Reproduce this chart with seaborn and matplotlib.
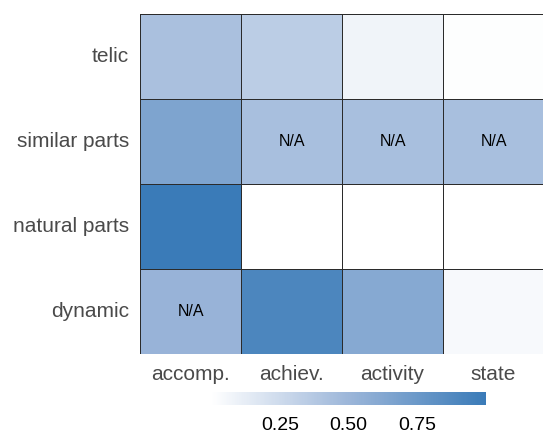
import numpy as np
import pandas as pd
import matplotlib
matplotlib.use("Agg")
import matplotlib.pyplot as plt
import seaborn as sns

# data
rows = ["telic", "similar parts", "natural parts", "dynamic"]
cols = ["accomp.", "achiev.", "activity", "state"]
telic = [0.43, 0.345, 0.075, 0.01]
similar_parts = [0.655, 0.44, 0.44, 0.44]
natural_parts = [1.0, 0.0, 0.0, 0.0]
dynamic = [0.52, 0.91, 0.61, 0.04]

na_cells = [("similar parts", "achiev."), ("similar parts", "activity"),
            ("similar parts", "state"), ("dynamic", "accomp.")]

df = pd.DataFrame([telic, similar_parts, natural_parts, dynamic], index=rows, columns=cols)
annot = pd.DataFrame("", index=rows, columns=cols)
for r, c in na_cells:
    annot.loc[r, c] = "N/A"

sns.set_theme(style="white")
plt.rcParams["font.family"] = ["Liberation Sans", "DejaVu Sans"]

# white -> lavender blue -> steel blue
cmap = sns.blend_palette(["#ffffff", "#9cb6d9", "#3a7bb8"], as_cmap=True)

fig = plt.figure(figsize=(5.43, 4.34), dpi=100)
ax = fig.add_axes([0.258, 0.184, 0.744, 0.784])
cax = fig.add_axes([0.389, 0.067, 0.506, 0.030])

sns.heatmap(df, ax=ax, cbar_ax=cax, cmap=cmap, vmin=0, vmax=1,
            annot=annot, fmt="", annot_kws={"fontsize": 11.5, "color": "black"},
            linewidths=0.6, linecolor="#2b2b2b",
            cbar_kws={"orientation": "horizontal", "ticks": [0.25, 0.5, 0.75]})

ax.tick_params(axis="both", length=0, labelsize=15, labelcolor="#4a4a4a", pad=8)
ax.set_yticklabels(rows, rotation=0)
ax.set_xticklabels(cols, rotation=0)
ax.set_xlabel("")
ax.set_ylabel("")

cbar = ax.collections[0].colorbar
cbar.outline.set_visible(False)
cbar.ax.tick_params(length=0, labelsize=14, labelcolor="black", pad=9)
cbar.set_ticklabels(["0.25", "0.50", "0.75"])

fig.savefig("out.png", dpi=100)
